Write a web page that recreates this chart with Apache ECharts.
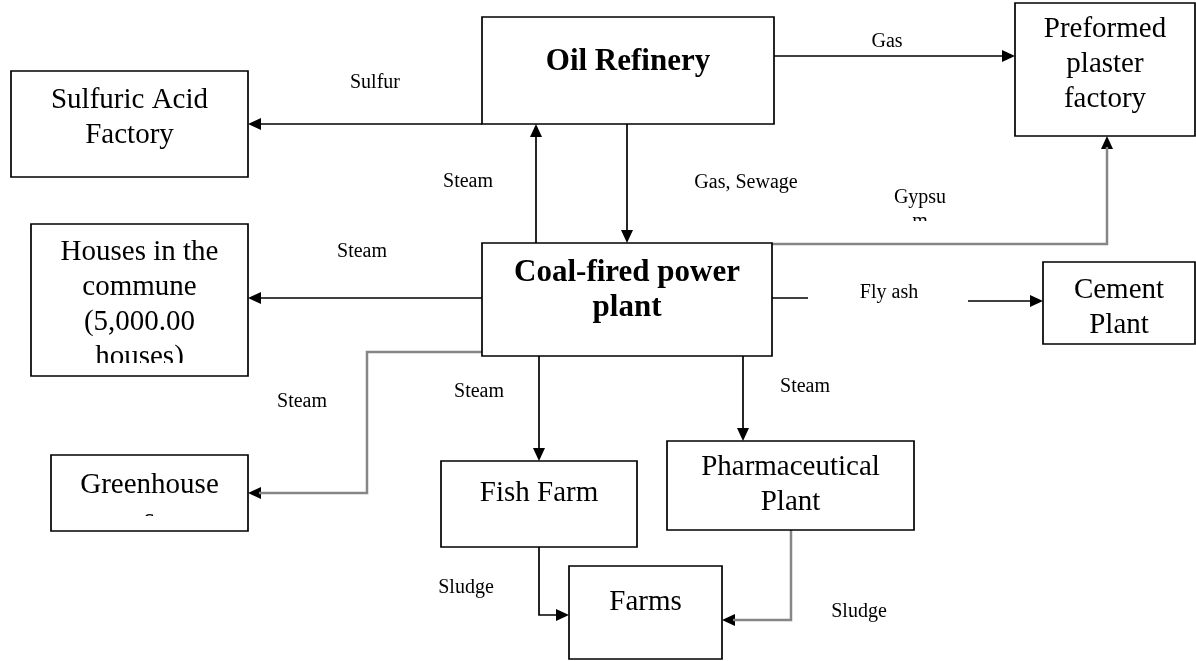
<!DOCTYPE html>
<html lang="en">
<head>
<meta charset="UTF-8">
<title>Coal-fired power plant exchanges</title>
<script src="https://cdn.jsdelivr.net/npm/echarts@6/dist/echarts.min.js"></script>
<style>
    html, body { margin: 0; padding: 0; background: #fff; }
    #chart { width: 1196px; height: 661px; }
</style>
</head>
<body>
<div id="chart"></div>
<script>
    // units of the network
    var nodes = ['Oil Refinery', 'Sulfuric Acid Factory', 'Preformed plaster factory', 'Houses in the commune',
        'Coal-fired power plant', 'Cement Plant', 'Greenhouses', 'Fish Farm', 'Pharmaceutical Plant', 'Farms'];
    var nodeLabels = ['Oil Refinery', 'Sulfuric Acid\nFactory', 'Preformed\nplaster\nfactory', 'Houses in the\ncommune\n(5,000.00\nhouses)',
        'Coal-fired power\nplant', 'Cement\nPlant', 'Greenhouse\ns', 'Fish Farm', 'Pharmaceutical\nPlant', 'Farms'];
    var mainNodes = ['Oil Refinery', 'Coal-fired power plant'];

    // exchanged flows
    var flowFrom = ['Oil Refinery', 'Oil Refinery', 'Coal-fired power plant', 'Oil Refinery', 'Coal-fired power plant',
        'Coal-fired power plant', 'Coal-fired power plant', 'Coal-fired power plant', 'Coal-fired power plant',
        'Coal-fired power plant', 'Fish Farm', 'Pharmaceutical Plant'];
    var flowTo = ['Sulfuric Acid Factory', 'Preformed plaster factory', 'Oil Refinery', 'Coal-fired power plant',
        'Preformed plaster factory', 'Houses in the commune', 'Cement Plant', 'Greenhouses', 'Fish Farm',
        'Pharmaceutical Plant', 'Farms', 'Farms'];
    var flowLabels = ['Sulfur', 'Gas', 'Steam', 'Gas, Sewage', 'Gypsu\nm', 'Steam', 'Fly ash', 'Steam', 'Steam',
        'Steam', 'Sludge', 'Sludge'];

    // --- layout (page pixels) ---
    var boxRect = {
        'Oil Refinery': [482, 17, 774, 124],
        'Sulfuric Acid Factory': [11, 71, 248, 177],
        'Preformed plaster factory': [1015, 3, 1195, 136],
        'Houses in the commune': [31, 224, 248, 376],
        'Coal-fired power plant': [482, 243, 772, 356],
        'Cement Plant': [1043, 262, 1195, 344],
        'Greenhouses': [51, 455, 248, 531],
        'Fish Farm': [441, 461, 637, 547],
        'Pharmaceutical Plant': [667, 441, 914, 530],
        'Farms': [569, 566, 722, 659]
    };
    var textTop = {
        'Oil Refinery': 62, 'Sulfuric Acid Factory': 100, 'Preformed plaster factory': 29,
        'Houses in the commune': 252, 'Coal-fired power plant': 273, 'Cement Plant': 290,
        'Greenhouses': 485, 'Fish Farm': 493, 'Pharmaceutical Plant': 467, 'Farms': 602
    };
    var textClip = {'Houses in the commune': 363, 'Greenhouses': 516};

    var routes = [
        [[[482, 124], [248, 124]]],
        [[[774, 56], [1015, 56]]],
        [[[536, 243], [536, 124]]],
        [[[627, 124], [627, 243]]],
        [[[772, 244], [1107, 244], [1107, 136]]],
        [[[482, 298], [248, 298]]],
        [[[772, 298], [808, 298]], [[968, 301], [1043, 301]]],
        [[[482, 352], [367, 352], [367, 493], [248, 493]]],
        [[[539, 356], [539, 461]]],
        [[[743, 356], [743, 441]]],
        [[[539, 547], [539, 615], [569, 615]]],
        [[[791, 530], [791, 620], [722, 620]]]
    ];
    var grayRoute = [false, false, false, false, true, false, false, true, false, false, false, true];
    var labelPos = [[375, 83], [887, 42], [468, 182], [746, 183], [920, 198], [362, 252], [889, 293],
        [302, 402], [479, 392], [805, 387], [466, 588], [859, 612]];
    var labelClip = {4: 221};

    var serif = '"Liberation Serif", "Times New Roman", serif';

    function renderBox(params, api) {
        var i = params.dataIndex;
        var name = nodes[i];
        var r = boxRect[name];
        var p0 = api.coord([r[0], r[1]]);
        var p1 = api.coord([r[2], r[3]]);
        var bold = mainNodes.indexOf(name) >= 0;
        var n = nodeLabels[i].split('\n').length;
        var lh = 35;
        var ty = api.coord([0, textTop[name]])[1];
        var text = {
            type: 'text',
            style: {
                text: nodeLabels[i],
                x: (p0[0] + p1[0]) / 2,
                y: ty + (n - 1) * lh / 2,
                align: 'center',
                verticalAlign: 'middle',
                lineHeight: lh,
                fontFamily: serif,
                fontSize: bold ? 31 : 29,
                fontWeight: bold ? 'bold' : 'normal',
                fill: '#000'
            }
        };
        if (textClip[name]) {
            var cy = api.coord([0, textClip[name]])[1];
            text.clipPath = {type: 'rect', shape: {x: p0[0], y: p0[1], width: p1[0] - p0[0], height: cy - p0[1]}};
        }
        return {
            type: 'group',
            children: [{
                type: 'rect',
                shape: {x: p0[0], y: p0[1], width: p1[0] - p0[0], height: p1[1] - p0[1]},
                style: {fill: '#fff', stroke: '#000', lineWidth: 1.7}
            }, text]
        };
    }

    function renderFlow(params, api) {
        var i = params.dataIndex;
        var color = grayRoute[i] ? '#868686' : '#000';
        var width = grayRoute[i] ? 2.5 : 1.7;
        var children = [];
        var parts = routes[i];
        parts.forEach(function (pts, k) {
            var c = pts.map(function (p) { return api.coord(p); });
            if (k === parts.length - 1) {
                var a = c[c.length - 2], b = c[c.length - 1];
                var dx = b[0] - a[0], dy = b[1] - a[1];
                var len = Math.sqrt(dx * dx + dy * dy);
                var ux = dx / len, uy = dy / len;
                var L = 13, W = 6;
                var base = [b[0] - ux * L, b[1] - uy * L];
                children.push({
                    type: 'polygon',
                    shape: {points: [b, [base[0] - uy * W, base[1] + ux * W], [base[0] + uy * W, base[1] - ux * W]]},
                    style: {fill: '#000'}
                });
                c[c.length - 1] = [base[0] + ux * 2, base[1] + uy * 2];
            }
            children.push({
                type: 'polyline',
                shape: {points: c},
                style: {stroke: color, lineWidth: width, fill: null}
            });
        });
        var lp = api.coord(labelPos[i]);
        var lab = {
            type: 'text',
            style: {
                text: flowLabels[i],
                x: lp[0],
                y: lp[1] + (flowLabels[i].split('\n').length - 1) * 12,
                align: 'center',
                verticalAlign: 'middle',
                lineHeight: 24,
                fontFamily: serif,
                fontSize: 20,
                fill: '#000'
            }
        };
        if (labelClip[i]) {
            var cy = api.coord([0, labelClip[i]])[1];
            lab.clipPath = {type: 'rect', shape: {x: lp[0] - 60, y: lp[1] - 30, width: 120, height: cy - lp[1] + 30}};
        }
        children.push(lab);
        return {type: 'group', children: children};
    }

    var chart = echarts.init(document.getElementById('chart'));
    chart.setOption({
        animation: false,
        backgroundColor: '#fff',
        grid: {left: 0, right: 0, top: 0, bottom: 0},
        xAxis: {type: 'value', min: 0, max: 1196, show: false},
        yAxis: {type: 'value', min: 0, max: 661, inverse: true, show: false},
        series: [{
            type: 'custom',
            name: 'flows',
            clip: false,
            renderItem: renderFlow,
            data: flowLabels.map(function (l, i) { return [i, 0]; }),
            z: 1
        }, {
            type: 'custom',
            name: 'units',
            clip: false,
            renderItem: renderBox,
            data: nodes.map(function (n, i) { return [i, 0]; }),
            z: 2
        }]
    });
</script>
</body>
</html>
